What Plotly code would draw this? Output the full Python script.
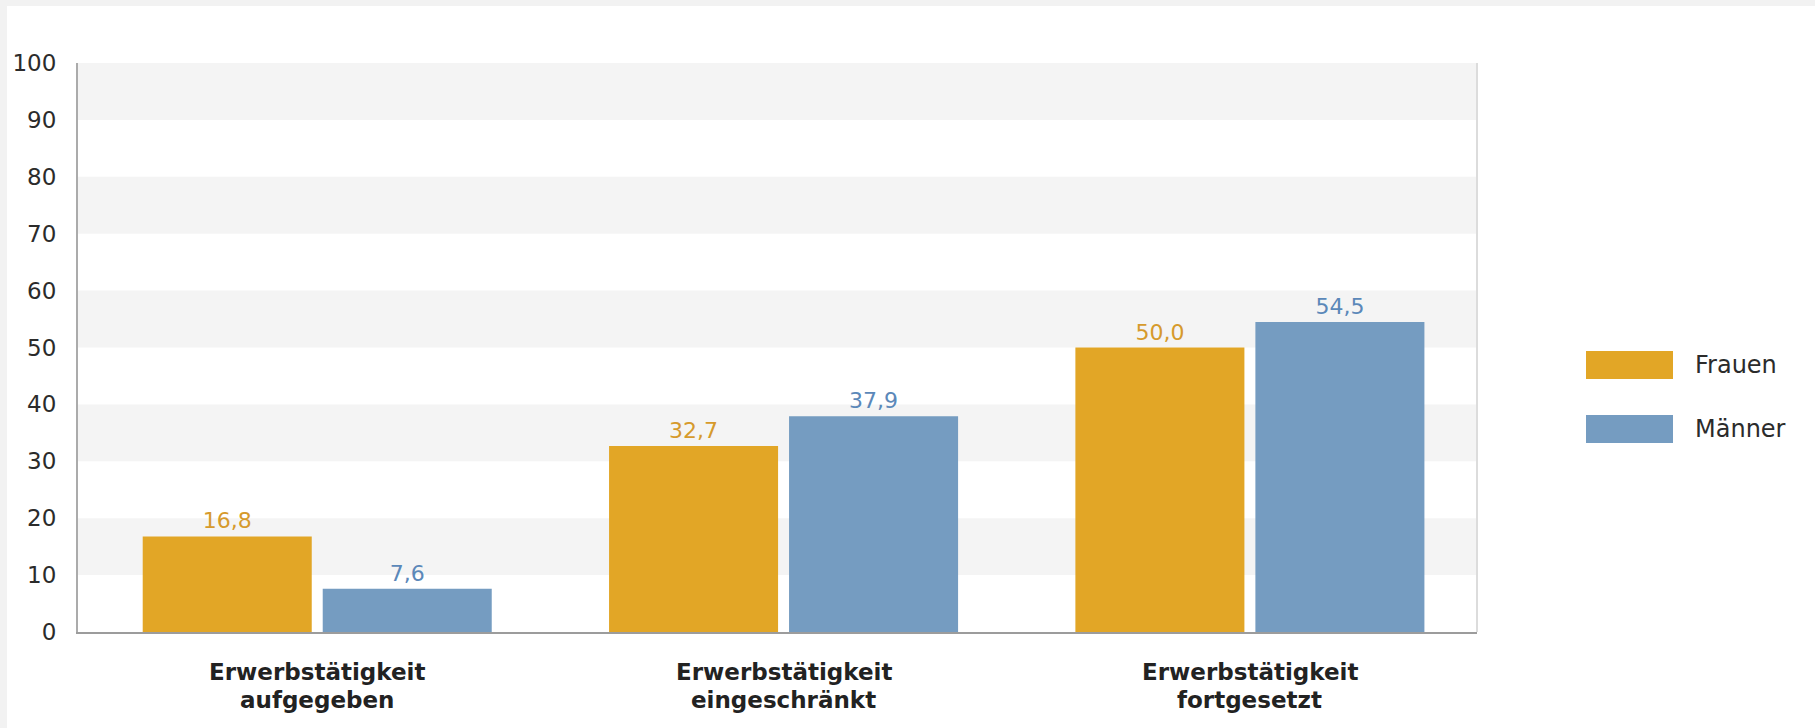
import plotly.graph_objects as go

# ---- data ----
categories = ["aufgegeben", "eingeschränkt", "fortgesetzt"]
label_line1 = ["Erwerbstätigkeit", "Erwerbstätigkeit", "Erwerbstätigkeit"]
label_line2 = ["aufgegeben", "eingeschränkt", "fortgesetzt"]
series_names = ["Frauen", "Männer"]
frauen = [16.8, 32.7, 50.0]
maenner = [7.6, 37.9, 54.5]
y_ticks = [0, 10, 20, 30, 40, 50, 60, 70, 80, 90, 100]

bar_colors = ["#E2A626", "#759CC1"]
text_colors = ["#D69A2C", "#5B88B9"]
FONT = "DejaVu Sans, Liberation Sans, Arial, sans-serif"

W, H = 1815, 728
L, R, T, B = 78, 1477, 63, 632  # plot area pixels
PW, PH = R - L, B - T


def px_x(x):
    return (x - L) / PW


def px_y(y):
    return (B - y) / PH


x_idx = list(range(len(categories)))

fig = go.Figure()
for name, vals, col, tcol in zip(series_names, [frauen, maenner], bar_colors, text_colors):
    fig.add_trace(go.Bar(
        x=x_idx, y=vals, name=name,
        marker=dict(color=col, line=dict(width=0)),
        texttemplate="%{y:.1f}", textposition="outside",
        textfont=dict(color=tcol, size=22, family=FONT),
        cliponaxis=False, showlegend=False, hoverinfo="skip",
    ))

shapes = []
# page background: gray strip top/left, white card
shapes.append(dict(type="rect", xref="paper", yref="paper", layer="below",
                   x0=px_x(7), x1=px_x(W + 5), y0=px_y(H + 5), y1=px_y(6),
                   fillcolor="white", line=dict(width=0)))
# alternating bands
for lo in y_ticks[1:-1:2]:
    shapes.append(dict(type="rect", xref="x domain", yref="y", layer="below",
                       x0=0, x1=1, y0=lo, y1=lo + 10,
                       fillcolor="#F4F4F4", line=dict(width=0)))
# right border line
shapes.append(dict(type="line", xref="paper", yref="paper", x0=1, x1=1, y0=0, y1=1,
                   line=dict(color="#DCDCDC", width=2)))
# legend swatches
legend_y = [365, 429]
annotations = []
for name, col, cy in zip(series_names, bar_colors, legend_y):
    shapes.append(dict(type="rect", xref="paper", yref="paper",
                       x0=px_x(1586), x1=px_x(1673), y0=px_y(cy + 14), y1=px_y(cy - 14),
                       fillcolor=col, line=dict(width=0)))
    annotations.append(dict(xref="paper", yref="paper", x=px_x(1693), y=px_y(cy),
                            xanchor="left", yanchor="middle", text=name, showarrow=False,
                            font=dict(size=24, color="#2b2b2b", family=FONT)))

# category labels (two lines)
for i, (l1, l2) in enumerate(zip(label_line1, label_line2)):
    for txt, shift in ((l1, -40), (l2, -68)):
        annotations.append(dict(xref="x", yref="paper", x=i, y=0, yshift=shift,
                                xanchor="center", yanchor="middle", showarrow=False,
                                text="<b>%s</b>" % txt,
                                font=dict(size=23, color="#222222", family=FONT)))

fig.update_layout(
    width=W, height=H,
    margin=dict(l=L, r=W - R, t=T, b=H - B, pad=0, autoexpand=False),
    paper_bgcolor="#F2F2F2", plot_bgcolor="rgba(0,0,0,0)",
    separators=",.",
    barmode="group", bargap=0.228, bargroupgap=0.061,
    shapes=shapes, annotations=annotations,
    xaxis=dict(range=[-0.513, 2.487], showticklabels=False, showgrid=False, zeroline=False,
               showline=True, linecolor="#9C9C9C", linewidth=2, ticks="", automargin=False),
    yaxis=dict(range=[0, 100], tickvals=y_ticks, showgrid=False, zeroline=False,
               showline=True, linecolor="#ABABAB", linewidth=2, ticks="",
               ticklabelstandoff=15, automargin=False,
               tickfont=dict(size=23, color="#2b2b2b", family=FONT)),
    font=dict(family=FONT),
)

fig.write_html("out.html")
